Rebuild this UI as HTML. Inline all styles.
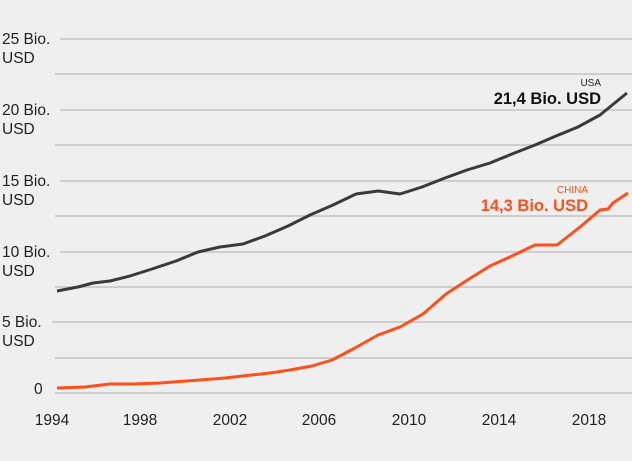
<!DOCTYPE html>
<html><head><meta charset="utf-8"><style>
html,body{margin:0;padding:0;background:#efefef;}
svg{display:block;font-family:"Liberation Sans",sans-serif;}
</style></head><body>
<svg width="632" height="461" viewBox="0 0 632 461">
<rect width="632" height="461" fill="#efefef"/>
<g stroke="#c4c4c4" stroke-width="1.5">
<line x1="60" y1="39" x2="632" y2="39"/>
<line x1="55" y1="74" x2="632" y2="74"/>
<line x1="60" y1="110" x2="632" y2="110"/>
<line x1="55" y1="145" x2="632" y2="145"/>
<line x1="60" y1="181" x2="632" y2="181"/>
<line x1="55" y1="216" x2="632" y2="216"/>
<line x1="60" y1="252" x2="632" y2="252"/>
<line x1="55" y1="287" x2="632" y2="287"/>
<line x1="52" y1="322" x2="632" y2="322"/>
<line x1="55" y1="358" x2="632" y2="358"/>
<line x1="55" y1="393" x2="632" y2="393"/>
</g>
<g font-size="15.5" fill="#222">
<text x="2" y="44">25 Bio.</text><text x="2" y="63">USD</text>
<text x="2" y="115">20 Bio.</text><text x="2" y="134">USD</text>
<text x="2" y="186">15 Bio.</text><text x="2" y="205">USD</text>
<text x="2" y="257">10 Bio.</text><text x="2" y="276">USD</text>
<text x="2" y="327">5 Bio.</text><text x="2" y="346">USD</text>
<text x="34" y="394">0</text>
</g>
<g font-size="15.5" fill="#222" text-anchor="middle">
<text x="52" y="425">1994</text><text x="140" y="425">1998</text><text x="230" y="425">2002</text>
<text x="319" y="425">2006</text><text x="409" y="425">2010</text><text x="499" y="425">2014</text><text x="589" y="425">2018</text>
</g>
<polyline fill="none" stroke="#3a3a3a" stroke-width="3" stroke-linejoin="round" points="57,291 78,287 93,283 110,281 130,276 152,269 176,261 198,252 220,247 243,244 265,236 288,226 310,215 333,205 356,194 378,191 400,194 422,187 445,178 467,170 490,163 512,154 535,145 556,136 578,127 600,115 627,93"/>
<polyline fill="none" stroke="#ff4f1a" stroke-width="3" stroke-linejoin="round" points="57,388 85,387 110,384 133,384 160,383 200,380 225,378 270,373 290,370 312,366 332,360 355,348 378,335 400,327 423,314 446,294 469,279 490,266 512,256 535,245 557,245 580,227 600,210 608,209 613,203 628,193"/>
<text x="601" y="86" font-size="10" fill="#222" text-anchor="end">USA</text>
<text x="601" y="104" font-size="16.5" font-weight="bold" fill="#111" text-anchor="end">21,4 Bio. USD</text>
<text x="588" y="193" font-size="10" fill="#ff4f1a" text-anchor="end">CHINA</text>
<text x="588" y="211" font-size="16.5" font-weight="bold" fill="#ff4f1a" text-anchor="end">14,3 Bio. USD</text>
</svg>
</body></html>
